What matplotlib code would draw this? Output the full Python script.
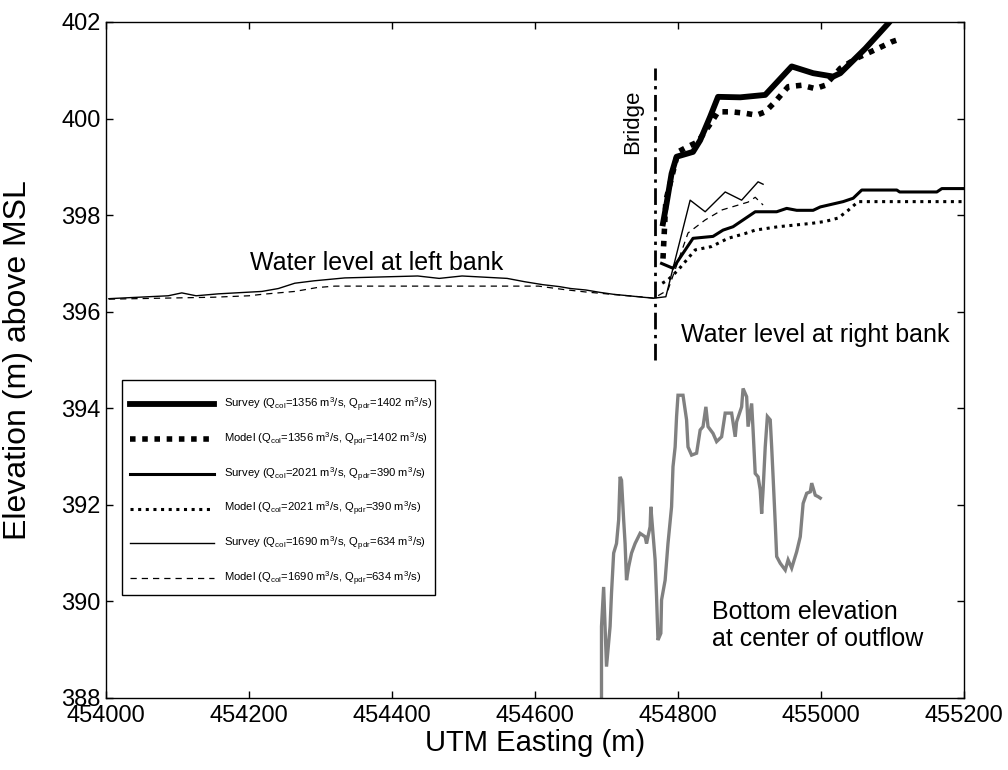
import matplotlib
matplotlib.use("Agg")
import matplotlib.pyplot as plt
from matplotlib.patches import Rectangle

plt.rcParams['font.family'] = ['Liberation Sans', 'DejaVu Sans']

# ---------------- data ----------------
# Survey, Q_col=1356 (right bank)
s1356_x = [454779, 454784, 454791, 454798, 454821, 454831, 454845, 454856, 454887, 454922,
           454959, 454989, 455017, 455027, 455062, 455094, 455110]
s1356_y = [397.83, 398.24, 398.86, 399.21, 399.31, 399.55, 400.04, 400.45, 400.44, 400.49,
           401.08, 400.94, 400.87, 400.94, 401.45, 401.97, 402.25]
# Model, Q_col=1356
m1356_x = [454779, 454783, 454800, 454814, 454828, 454847, 454856, 454875, 454894, 454910,
           454922, 454936, 454954, 454973, 454992, 455006, 455027, 455050, 455069, 455085,
           455099, 455113]
m1356_y = [397.10, 398.30, 399.31, 399.42, 399.52, 399.93, 400.14, 400.14, 400.11, 400.07,
           400.14, 400.35, 400.66, 400.69, 400.62, 400.69, 401.04, 401.25, 401.38, 401.49,
           401.59, 401.66]
# Survey, Q_col=2021
s2021_x = [454777, 454793, 454821, 454849, 454863, 454877, 454891, 454908, 454938, 454952,
           454966, 454989, 454999, 455031, 455045, 455057, 455106, 455110, 455162, 455169, 455201]
s2021_y = [397.00, 396.90, 397.52, 397.56, 397.69, 397.76, 397.90, 398.07, 398.07, 398.14,
           398.10, 398.10, 398.17, 398.28, 398.35, 398.52, 398.52, 398.48, 398.48, 398.55, 398.55]
# Model, Q_col=2021
m2021_x = [454778, 454786, 454800, 454824, 454847, 454870, 454894, 454908, 454940, 454987,
           455006, 455024, 455038, 455052, 455201]
m2021_y = [396.59, 396.66, 396.86, 397.28, 397.35, 397.52, 397.62, 397.69, 397.76, 397.83,
           397.87, 397.94, 398.10, 398.28, 398.28]
# Survey, Q_col=1690 (left bank -> right bank)
s1690_x = [454004, 454087, 454106, 454126, 454157, 454218, 454241, 454264, 454291, 454334,
           454436, 454466, 454498, 454561, 454586, 454611, 454634, 454650, 454671, 454691,
           454710, 454731, 454751, 454766, 454783, 454817, 454838, 454866, 454889, 454912, 454919]
s1690_y = [396.27, 396.33, 396.39, 396.33, 396.37, 396.42, 396.48, 396.59, 396.64, 396.70,
           396.74, 396.69, 396.74, 396.69, 396.62, 396.56, 396.52, 396.48, 396.45, 396.40,
           396.36, 396.33, 396.30, 396.28, 396.31, 398.31, 398.07, 398.48, 398.31, 398.69, 398.64]
# Model, Q_col=1690
m1690_x = [454004, 454150, 454200, 454218, 454264, 454295, 454320, 454605, 454640, 454670,
           454700, 454730, 454755, 454766, 454786, 454814, 454838, 454862, 454898, 454908, 454919]
m1690_y = [396.26, 396.30, 396.33, 396.36, 396.42, 396.50, 396.53, 396.53, 396.46, 396.41,
           396.37, 396.33, 396.30, 396.28, 396.45, 397.63, 397.90, 398.11, 398.27, 398.37, 398.21]
# Bottom elevation at center of outflow
bot_x = [454693, 454693, 454693, 454696, 454700, 454705, 454707, 454710, 454714, 454717,
         454719, 454721, 454724, 454726, 454728, 454731, 454735, 454740, 454747, 454754,
         454756, 454761, 454762, 454765, 454768, 454770, 454772, 454776, 454777, 454782,
         454786, 454791, 454793, 454796, 454798, 454800, 454807, 454812, 454814, 454819,
         454826, 454831, 454835, 454839, 454842, 454849, 454854, 454861, 454866, 454875,
         454880, 454882, 454889, 454891, 454896, 454898, 454903, 454905, 454908, 454912,
         454915, 454917, 454919, 454922, 454925, 454929, 454931, 454933, 454936, 454938,
         454943, 454950, 454954, 454959, 454966, 454971, 454975, 454980, 454985, 454987,
         454992, 454996, 454999]
bot_y = [387.90, 388.65, 389.48, 390.30, 388.65, 389.48, 390.17, 391.00, 391.20, 391.69,
         392.58, 392.51, 391.69, 391.20, 390.44, 390.72, 391.00, 391.20, 391.41, 391.34,
         391.20, 391.55, 391.96, 391.41, 390.86, 390.10, 389.20, 389.34, 390.03, 390.44,
         391.20, 391.96, 392.79, 393.20, 393.83, 394.27, 394.27, 393.76, 393.20, 393.03,
         393.07, 393.55, 393.62, 394.03, 393.62, 393.48, 393.31, 393.41, 393.90, 393.90,
         393.41, 393.72, 394.03, 394.41, 394.24, 393.62, 394.10, 393.55, 392.65, 392.58,
         392.31, 391.82, 392.31, 393.20, 393.83, 393.76, 393.20, 392.58, 391.62, 390.93,
         390.79, 390.65, 390.86, 390.69, 391.03, 391.34, 392.03, 392.24, 392.27, 392.45,
         392.20, 392.17, 392.14]
# Bridge
bridge_x = [454768, 454768]
bridge_y = [395.0, 401.05]

labels = [
    r'Survey (Q$_\mathregular{col}$=1356 m$^\mathregular{3}$/s, Q$_\mathregular{pdr}$=1402 m$^\mathregular{3}$/s)',
    r'Model (Q$_\mathregular{col}$=1356 m$^\mathregular{3}$/s, Q$_\mathregular{pdr}$=1402 m$^\mathregular{3}$/s)',
    r'Survey (Q$_\mathregular{col}$=2021 m$^\mathregular{3}$/s, Q$_\mathregular{pdr}$=390 m$^\mathregular{3}$/s)',
    r'Model (Q$_\mathregular{col}$=2021 m$^\mathregular{3}$/s, Q$_\mathregular{pdr}$=390 m$^\mathregular{3}$/s)',
    r'Survey (Q$_\mathregular{col}$=1690 m$^\mathregular{3}$/s, Q$_\mathregular{pdr}$=634 m$^\mathregular{3}$/s)',
    r'Model (Q$_\mathregular{col}$=1690 m$^\mathregular{3}$/s, Q$_\mathregular{pdr}$=634 m$^\mathregular{3}$/s)',
]
xticks = [454000, 454200, 454400, 454600, 454800, 455000, 455200]
xtick_labels = ['454000', '454200', '454400', '454600', '454800', '455000', '455200']
yticks = [388, 390, 392, 394, 396, 398, 400, 402]
ytick_labels = ['388', '390', '392', '394', '396', '398', '400', '402']

# ---------------- figure ----------------
fig = plt.figure(figsize=(10.08, 7.70), dpi=100)
ax = fig.add_axes([106/1008, 1-698/770, (964-106)/1008, (698-22)/770])

ax.plot(bot_x, bot_y, color='#808080', lw=2.4, solid_joinstyle='miter')
ax.plot(bridge_x, bridge_y, color='black', lw=2.0, linestyle=(0, (6, 2, 1.2, 2)))

h1, = ax.plot(s1356_x, s1356_y, color='black', lw=4.2, label=labels[0])
h2, = ax.plot(m1356_x, m1356_y, color='black', lw=4.0, linestyle=(0, (1, 1.2)), label=labels[1])
h3, = ax.plot(s2021_x, s2021_y, color='black', lw=2.2, label=labels[2])
h4, = ax.plot(m2021_x, m2021_y, color='black', lw=2.2, linestyle=(0, (1, 1.5)), label=labels[3])
h5, = ax.plot(s1690_x, s1690_y, color='black', lw=1.0, label=labels[4])
h6, = ax.plot(m1690_x, m1690_y, color='black', lw=0.9, linestyle=(0, (5, 4)), label=labels[5])

ax.set_xlim(454000, 455200)
ax.set_ylim(388, 402)
ax.set_xticks(xticks)
ax.set_xticklabels(xtick_labels)
ax.set_yticks(yticks)
ax.set_yticklabels(ytick_labels)
ax.tick_params(direction='in', top=True, right=True, length=5, width=1.0, labelsize=17, pad=4)
ax.tick_params(axis='x', pad=5)
for s in ax.spines.values():
    s.set_linewidth(1.0)

ax.set_xlabel('UTM Easting (m)', fontsize=21)
ax.set_ylabel('Elevation (m) above MSL', fontsize=23)
ax.xaxis.set_label_coords(0.5, (698-729)/676)
ax.yaxis.set_label_coords((33-106)/858, 0.5)

ax.text(454378, 397.01, 'Water level at left bank', fontsize=18, ha='center', va='center')
ax.text(454992, 395.52, 'Water level at right bank', fontsize=18, ha='center', va='center')
ax.text(454848, 389.51, 'Bottom elevation\nat center of outflow', fontsize=18, ha='left',
        va='center', linespacing=1.15)
ax.text(454736, 399.93, 'Bridge', fontsize=16, rotation=90, ha='center', va='center')

# legend box (drawn as its own frame) and legend entries
ax.add_patch(Rectangle(((122-106)/858, (698-595)/676), (435-122)/858, (595-380)/676,
                       transform=ax.transAxes, facecolor='white', edgecolor='black',
                       lw=1.0, zorder=4))
leg = ax.legend(handles=[h1, h2, h3, h4, h5, h6], loc='upper left',
                bbox_to_anchor=((130-106)/858, (698-396)/676), fontsize=8.1,
                frameon=False, handlelength=7.5, handletextpad=0.9, labelspacing=1.47,
                borderpad=0, borderaxespad=0)
leg.set_zorder(5)

fig.savefig('out.png', dpi=100)
